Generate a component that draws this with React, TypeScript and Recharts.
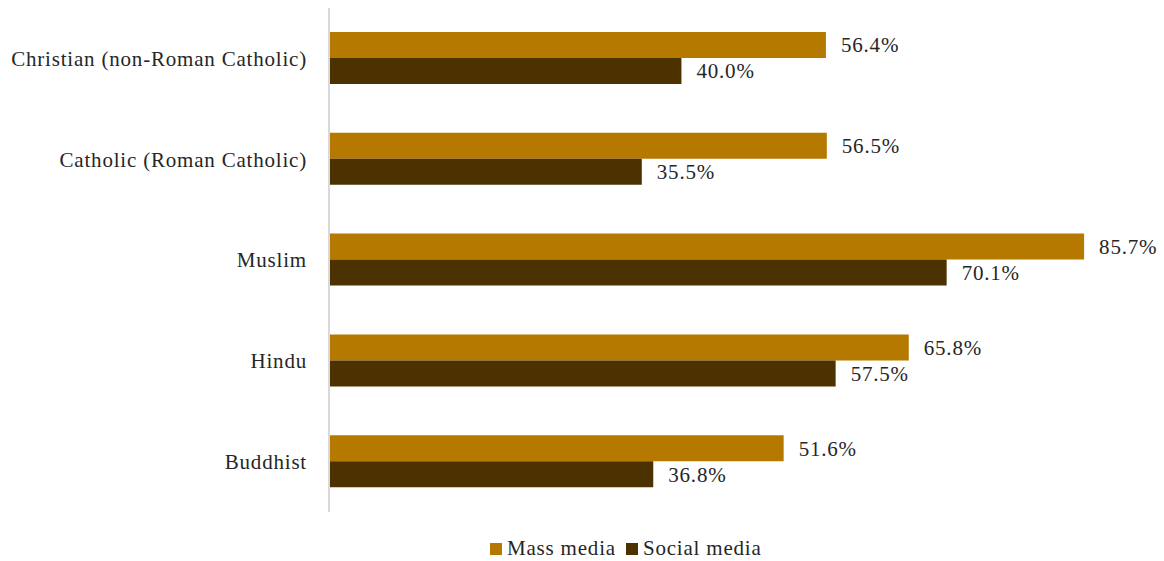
import React from "react";
import { BarChart, Bar, XAxis, YAxis, LabelList, Legend } from "recharts";

const categories = [
  "Christian (non-Roman Catholic)",
  "Catholic (Roman Catholic)",
  "Muslim",
  "Hindu",
  "Buddhist",
];
const massMedia = [56.4, 56.5, 85.7, 65.8, 51.6];
const socialMedia = [40.0, 35.5, 70.1, 57.5, 36.8];

const data = categories.map((c, i) => ({
  name: c,
  mass: massMedia[i],
  social: socialMedia[i],
}));

const MASS = "#B57900";
const SOCIAL = "#4B3200";
const FONT = "'Liberation Serif', 'DejaVu Serif', serif";
const TEXT = "#262626";
const FS = 21;
const LS = 0.8;

const fmt = (v: any) => `${Number(v).toFixed(1)}%`;

const LegendContent = () => (
  <div
    style={{
      display: "flex",
      alignItems: "center",
      fontFamily: FONT,
      fontSize: FS,
      letterSpacing: LS,
      color: TEXT,
    }}
  >
    <span style={{ width: 12, height: 12, background: MASS, display: "inline-block", marginRight: 5 }} />
    <span style={{ marginRight: 10 }}>Mass media</span>
    <span style={{ width: 12, height: 12, background: SOCIAL, display: "inline-block", marginRight: 5 }} />
    <span>Social media</span>
  </div>
);

export default function App() {
  return (
    <div style={{ position: "absolute", left: 0, top: 0, background: "#fff" }}>
      <BarChart
        width={1164}
        height={561}
        data={data}
        layout="vertical"
        margin={{ top: 8, right: 42, bottom: 49, left: 0 }}
        barGap={0}
        barSize={26}
      >
        <XAxis type="number" domain={[0, 90]} hide />
        <YAxis
          type="category"
          dataKey="name"
          width={329}
          axisLine={{ stroke: "#D9D9D9", strokeWidth: 2 }}
          tickLine={false}
          tickMargin={16}
          tick={{ fontFamily: FONT, fontSize: FS, fill: TEXT, letterSpacing: LS }}
        />
        <Legend
          layout="horizontal"
          verticalAlign="middle"
          align="center"
          content={<LegendContent />}
          wrapperStyle={{ top: 536, left: 490, width: "auto" }}
        />
        <Bar dataKey="mass" name="Mass media" fill={MASS} isAnimationActive={false}>
          <LabelList
            dataKey="mass"
            position="right"
            offset={15}
            formatter={fmt}
            style={{ fontFamily: FONT, fontSize: FS, fill: TEXT, letterSpacing: LS }}
          />
        </Bar>
        <Bar dataKey="social" name="Social media" fill={SOCIAL} isAnimationActive={false}>
          <LabelList
            dataKey="social"
            position="right"
            offset={15}
            formatter={fmt}
            style={{ fontFamily: FONT, fontSize: FS, fill: TEXT, letterSpacing: LS }}
          />
        </Bar>
      </BarChart>
    </div>
  );
}
